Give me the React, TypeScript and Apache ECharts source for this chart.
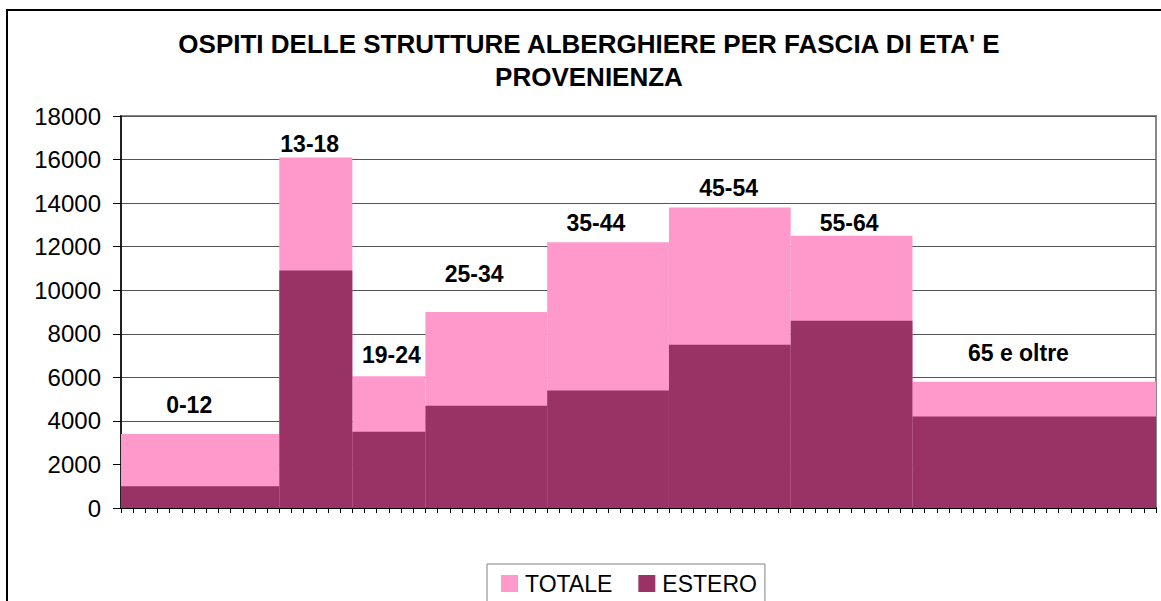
import React, { useEffect, useRef } from "react";
import * as echarts from "echarts";

const bandStart = [0, 13, 19, 25, 35, 45, 55, 65];
const bandEnd = [13, 19, 25, 35, 45, 55, 65, 85];
const bandLabels = ["0-12", "13-18", "19-24", "25-34", "35-44", "45-54", "55-64", "65 e oltre"];
const totale = [3400, 16100, 6050, 9000, 12200, 13800, 12500, 5800];
const estero = [1000, 10900, 3500, 4700, 5400, 7500, 8600, 4200];
const labelX = [5.6, 15.5, 22.2, 29.0, 39.0, 49.9, 59.8, 73.7];
const labelY = [4730, 16700, 7030, 10750, 13080, 14690, 13080, 7120];
const yTicks = [0, 2000, 4000, 6000, 8000, 10000, 12000, 14000, 16000, 18000];

const PINK = "#FF99CC";
const PLUM = "#993366";
const FONT = "Liberation Sans, Arial, sans-serif";

function rectRenderer(color: string) {
  return (params: any, api: any) => {
    const p0 = api.coord([api.value(0), api.value(2)]);
    const p1 = api.coord([api.value(1), 0]);
    return {
      type: "rect",
      shape: { x: p0[0], y: p0[1], width: p1[0] - p0[0], height: p1[1] - p0[1] },
      style: { fill: color },
    };
  };
}

export default function App() {
  const ref = useRef<HTMLDivElement>(null);
  useEffect(() => {
    if (!ref.current) return;
    const chart = echarts.init(ref.current, undefined, { renderer: "svg" });
    const totData = bandStart.map((s, i) => [s, bandEnd[i], totale[i]]);
    const estData = bandStart.map((s, i) => [s, bandEnd[i], estero[i]]);
    const lblData = bandLabels.map((n, i) => ({ value: [labelX[i], labelY[i]], name: n }));
    chart.setOption({
      animation: false,
      textStyle: { fontFamily: FONT },
      graphic: [
        {
          type: "rect",
          shape: { x: 7, y: 10, width: 1300, height: 800 },
          style: { fill: "none", stroke: "#000", lineWidth: 2 },
          z: 0,
        },
        {
          type: "text",
          x: 589,
          y: 27,
          style: {
            text: "OSPITI DELLE STRUTTURE ALBERGHIERE PER FASCIA DI ETA' E\nPROVENIENZA",
            font: `bold 26px ${FONT}`,
            fill: "#000",
            textAlign: "center",
            lineHeight: 33,
          },
        },
      ],
      legend: {
        data: ["TOTALE", "ESTERO"],
        left: 487,
        top: 564,
        padding: [8, 8, 14, 14],
        borderColor: "#808080",
        borderWidth: 1,
        itemWidth: 17,
        itemHeight: 17,
        itemGap: 26,
        icon: "rect",
        textStyle: { fontSize: 23, color: "#000", fontFamily: FONT, padding: [0, 0, 0, 2] },
      },
      grid: {
        left: 121,
        right: 5,
        top: 116,
        bottom: 93,
        show: true,
        borderColor: "#888",
        borderWidth: 2,
        backgroundColor: "#fff",
      },
      xAxis: {
        type: "value",
        min: 0,
        max: 85,
        interval: 1,
        axisLine: { show: true, onZero: false, lineStyle: { color: "#000", width: 2 } },
        axisTick: { show: true, length: 5, lineStyle: { color: "#000" } },
        axisLabel: { show: false },
        splitLine: { show: false },
      },
      yAxis: {
        type: "value",
        min: 0,
        max: 18000,
        interval: 2000,
        axisLine: { show: true, lineStyle: { color: "#000", width: 1.5 } },
        axisTick: { show: true, length: 8, lineStyle: { color: "#000" } },
        axisLabel: {
          fontSize: 24,
          color: "#000",
          margin: 20,
          formatter: (v: number) => (yTicks.includes(v) ? String(v) : ""),
        },
        splitLine: { show: true, lineStyle: { color: "#555", width: 1 } },
      },
      series: [
        {
          name: "TOTALE",
          type: "custom",
          itemStyle: { color: PINK },
          renderItem: rectRenderer(PINK),
          encode: { x: [0, 1], y: 2 },
          data: totData,
          z: 2,
        },
        {
          name: "ESTERO",
          type: "custom",
          itemStyle: { color: PLUM },
          renderItem: rectRenderer(PLUM),
          encode: { x: [0, 1], y: 2 },
          data: estData,
          z: 3,
        },
        {
          name: "labels",
          type: "scatter",
          symbolSize: 0,
          itemStyle: { color: "#000" },
          data: lblData,
          z: 4,
          label: {
            show: true,
            position: "inside",
            formatter: (p: any) => p.name,
            fontSize: 23,
            fontWeight: "bold",
            color: "#000",
            textBorderWidth: 0,
            opacity: 1,
            fontFamily: FONT,
          },
          silent: true,
        },
      ],
    });
    return () => chart.dispose();
  }, []);
  return (
    <div
      ref={ref}
      style={{ position: "fixed", left: 0, top: 0, width: 1161, height: 601, background: "#fff" }}
    />
  );
}
